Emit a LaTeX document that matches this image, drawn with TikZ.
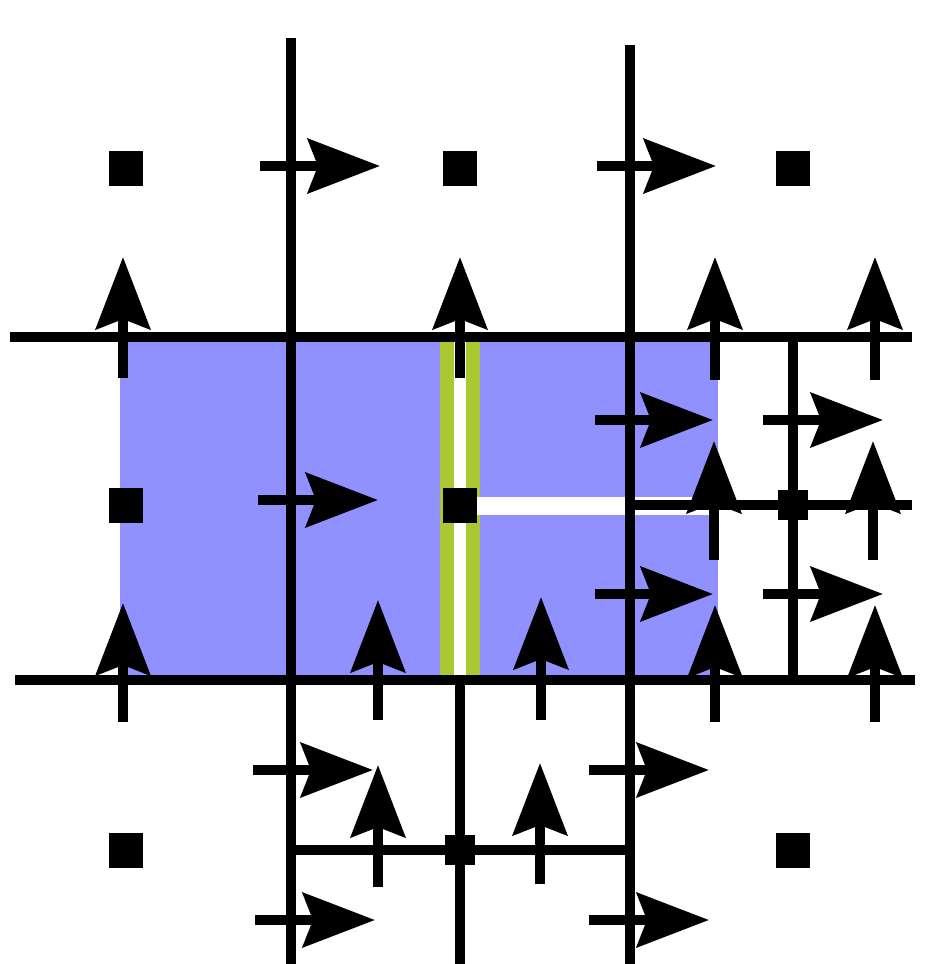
\documentclass[tikz,border=0pt]{standalone}
\usetikzlibrary{arrows.meta}
\definecolor{cellblue}{RGB}{144,144,255}
\definecolor{facegreen}{RGB}{170,200,50}
\begin{document}
\begin{tikzpicture}[x=0.5pt,y=-0.5pt,
  gridline/.style={line width=5pt},
  vel/.style={line width=5pt,-{Stealth[length=36pt,width=27pt,inset=5pt]}},
  bigsq/.style={fill=black,minimum width=17pt,minimum height=17.5pt,inner sep=0pt,draw=none},
  smallsq/.style={fill=black,minimum width=15pt,minimum height=15pt,inner sep=0pt,draw=none}]
\useasboundingbox (0,0) rectangle (925,964);
% shaded region
\fill[cellblue] (120,340) rectangle (718,678);
\draw[facegreen, line width=20pt] (460,341) -- (460,677);
\draw[white, line width=6pt] (460,341) -- (460,677);
\fill[white] (467,497) rectangle (718,515);
% grid lines
\draw[gridline] (291,38) -- (291,964);
\draw[gridline] (630,45) -- (630,964);
\draw[gridline] (10,337) -- (912,337);
\draw[gridline] (15,680) -- (915,680);
\draw[gridline] (793,337) -- (793,680);
\draw[gridline] (630,505) -- (912,505);
\draw[gridline] (460,680) -- (460,964);
\draw[gridline] (291,850) -- (630,850);
% horizontal velocity arrows
\draw[vel] (260,166) -- (380,166);
\draw[vel] (597,166) -- (716,166);
\draw[vel] (258,500) -- (378,500);
\draw[vel] (595,420) -- (713,420);
\draw[vel] (595,594) -- (713,594);
\draw[vel] (763,420) -- (883,420);
\draw[vel] (763,594) -- (883,594);
\draw[vel] (253,770) -- (373,770);
\draw[vel] (255,920) -- (375,920);
\draw[vel] (589,770) -- (709,770);
\draw[vel] (589,920) -- (709,920);
% vertical velocity arrows
\draw[vel] (123,378) -- (123,257);
\draw[vel] (460,378) -- (460,257);
\draw[vel] (715,380) -- (715,257);
\draw[vel] (875,380) -- (875,257);
\draw[vel] (123,722) -- (123,603);
\draw[vel] (378,720) -- (378,600);
\draw[vel] (541,720) -- (541,597);
\draw[vel] (715,722) -- (715,605);
\draw[vel] (875,722) -- (875,605);
\draw[vel] (714,560) -- (714,441);
\draw[vel] (873,560) -- (873,441);
\draw[vel] (378,887) -- (378,765);
\draw[vel] (540,884) -- (540,763);
% cell centres
\node[bigsq] (c11) at (126,168) {};
\node[bigsq] (c12) at (460,168) {};
\node[bigsq] (c13) at (793,168) {};
\node[bigsq] (c21) at (126,505) {};
\node[bigsq] (c22) at (460,505) {};
\node[bigsq] (c31) at (126,850) {};
\node[bigsq] (c33) at (793,850) {};
\node[smallsq] (r23) at (793,505) {};
\node[smallsq] (r32) at (460,850) {};
\end{tikzpicture}
\end{document}
